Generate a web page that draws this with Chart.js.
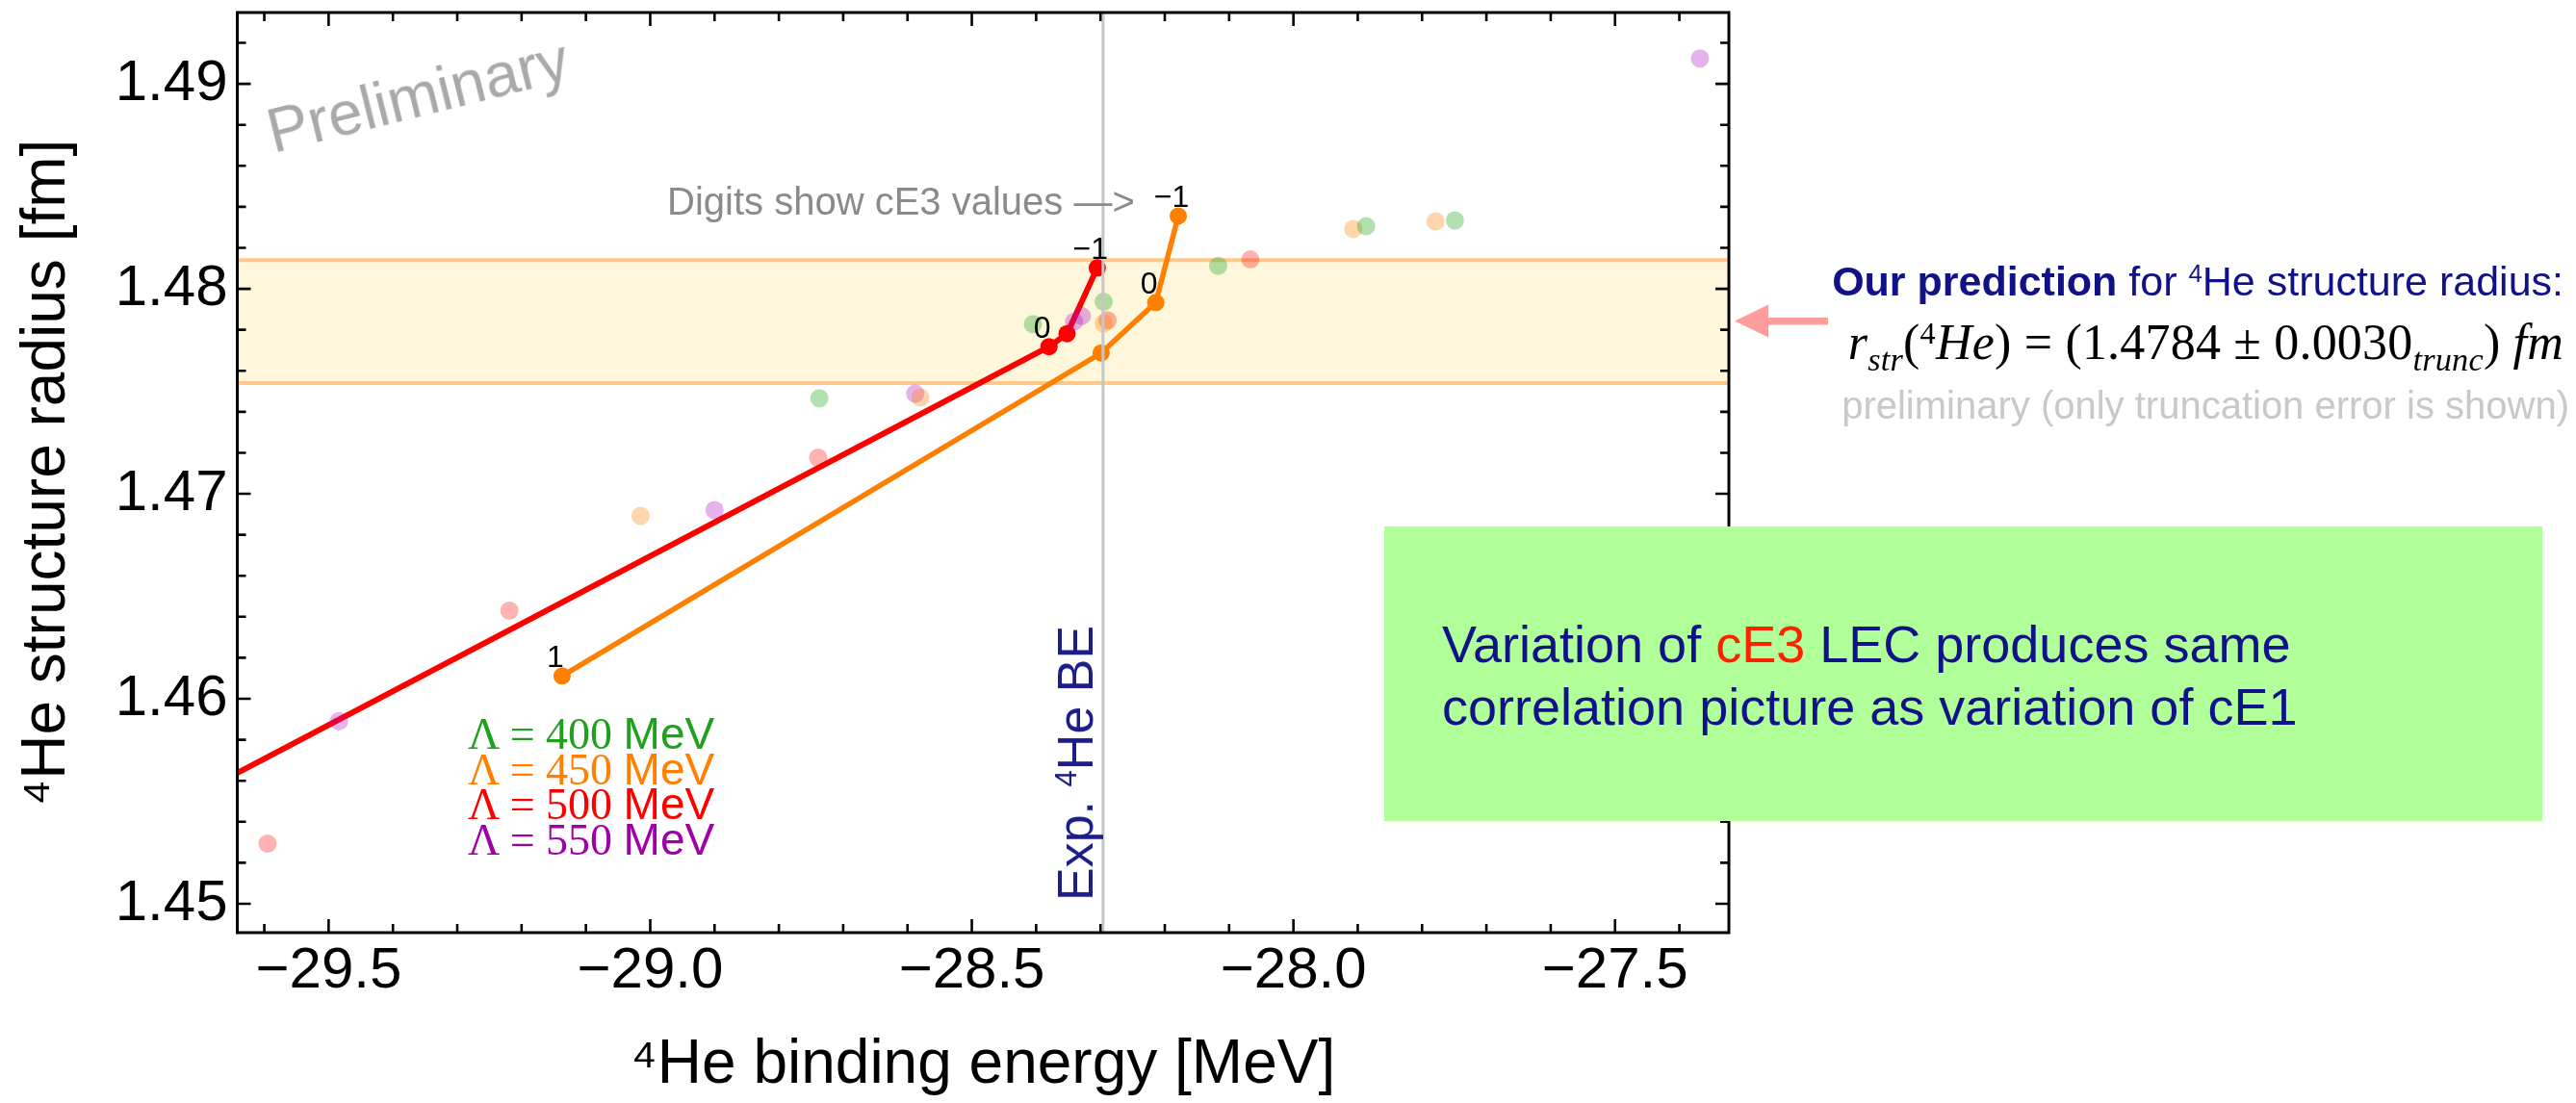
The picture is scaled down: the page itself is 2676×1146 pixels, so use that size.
<!DOCTYPE html>
<html>
<head>
<meta charset="utf-8">
<script src="https://cdn.jsdelivr.net/npm/chart.js@4.4.1/dist/chart.umd.min.js"></script>
<style>
html,body{margin:0;padding:0;background:#fff;}
#wrap{position:relative;width:2676px;height:1146px;overflow:hidden;background:#fff;}
#c{position:absolute;left:0;top:0;}
.abs{position:absolute;white-space:nowrap;line-height:1;font-family:'Liberation Sans',Arial,Helvetica,sans-serif;}
.sub{font-size:0.66em;position:relative;top:0.34em;}
.sup{font-size:0.62em;position:relative;top:-0.5em;}
.ssup{font-size:0.6em;position:relative;top:-0.55em;}
#legend div{height:36.5px;line-height:36.5px;font-family:'Liberation Serif','Times New Roman',serif;font-size:46px;}
#legend .u{font-family:'Liberation Sans',Arial,sans-serif;}
#greenbox{position:absolute;left:1438px;top:547px;width:1203px;height:306px;background:#b0ff98;}
#greenbox .t{position:absolute;left:60px;top:90px;font-family:'Liberation Sans',Arial,sans-serif;font-size:54px;line-height:65px;color:#111188;white-space:nowrap;}
</style>
</head>
<body>
<div id="wrap">
<canvas id="c" width="2676" height="1146"></canvas>

<div class="abs" style="left:434px;top:99px;transform:translate(-50%,-50%) rotate(-14deg);font-size:64px;color:#a9a9a9;">Preliminary</div>

<div class="abs" style="left:693px;top:189px;font-size:40px;color:#8a8a8a;">Digits show cE3 values —&gt;</div>

<div class="abs" style="left:1117px;top:793px;transform:translate(-50%,-50%) rotate(-90deg);font-size:52px;color:#1c1c8a;">Exp. <span class="ssup">4</span>He BE</div>

<div id="legend" class="abs" style="left:486px;top:744px;">
  <div style="color:#1fa01f">Λ = 400 <span class="u">MeV</span></div>
  <div style="color:#ff8000">Λ = 450 <span class="u">MeV</span></div>
  <div style="color:#ff0000">Λ = 500 <span class="u">MeV</span></div>
  <div style="color:#a000a8">Λ = 550 <span class="u">MeV</span></div>
</div>

<div class="abs" style="right:13px;top:271px;font-size:43px;color:#111188;"><b>Our prediction</b> for <span class="ssup">4</span>He structure radius:</div>
<div class="abs" style="right:13px;top:330px;font-size:52px;letter-spacing:0.2px;color:#000;font-family:'Liberation Serif','Times New Roman',serif;"><i>r</i><span class="sub"><i>str</i></span>(<span class="sup">4</span><i>He</i>) = (1.4784 ± 0.0030<span class="sub"><i>trunc</i></span>) <i>fm</i></div>
<div class="abs" style="right:7px;top:401px;font-size:40px;color:#c8c8c8;">preliminary (only truncation error is shown)</div>

<svg style="position:absolute;left:1800px;top:314px;" width="102" height="40">
  <polygon points="2,19.5 37,2.5 37,36.5" fill="#ff9c9c"/>
  <rect x="34" y="16" width="65" height="7.5" fill="#ff9c9c"/>
</svg>

<div id="greenbox"><div class="t">Variation of <span style="color:#ff2200">cE3</span> LEC produces same<br>correlation picture as variation of cE1</div></div>
</div>

<script>
// ---------------- data ----------------
const cutoffs = ['400', '450', '500', '550'];

// faint background points (other LEC variation), per cutoff
const be400 = [-28.737, -28.405, -28.295, -28.117, -27.887, -27.749];
const r400  = [1.47466, 1.47828, 1.47937, 1.48112, 1.48305, 1.48334];
const be450 = [-29.015, -28.580, -28.295, -27.907, -27.779];
const r450  = [1.46892, 1.47470, 1.47831, 1.48292, 1.48329];
const be500 = [-29.595, -29.219, -28.739, -28.289, -28.067];
const r500  = [1.45293, 1.46430, 1.47176, 1.47847, 1.48143];
const be550 = [-29.484, -28.900, -28.588, -28.341, -28.329, -27.368];
const r550  = [1.45891, 1.46920, 1.47488, 1.47840, 1.47867, 1.49124];

// cE3 variation (digits show cE3 values)
const digits450 = ['\u22121', '0', '', '1'];
const be450cE3  = [-28.179, -28.214, -28.299, -29.137];
const r450cE3   = [1.48355, 1.47933, 1.47687, 1.46111];
const digits500 = ['\u22121', '', '0', '1'];
const be500cE3  = [-28.305, -28.352, -28.380, -29.850];
const r500cE3   = [1.48102, 1.47781, 1.47718, 1.45295];

const expBE = -28.296;
const predRadius = 1.4784;
const predErr = 0.0030;

const xRange = [-29.642, -27.323];
const yRange = [1.44859, 1.49348];
const xMajor = [-29.5, -29.0, -28.5, -28.0, -27.5];
const xTickLabels = ['\u221229.5', '\u221229.0', '\u221228.5', '\u221228.0', '\u221227.5'];
const yMajor = [1.45, 1.46, 1.47, 1.48, 1.49];
const yTickLabels = ['1.45', '1.46', '1.47', '1.48', '1.49'];
const xMinorStep = 0.1;
const yMinorStep = 0.002;

// ---------------- helpers ----------------
function stepValues(a, b, step) {
  const out = [];
  for (let k = Math.ceil(a / step - 1e-9); k * step <= b + 1e-9; k++) out.push(+(k * step).toFixed(6));
  return out;
}
function majorIndex(list, v) { return list.findIndex(m => Math.abs(m - v) < 1e-6); }
function pts(xs, ys) { return xs.map((x, i) => ({x: x, y: ys[i]})); }

const SANS = "'Liberation Sans', Arial, Helvetica, sans-serif";

const frameTicks = {
  id: 'frameTicks',
  afterDatasetsDraw(chart) {
    const {ctx, chartArea: a, scales: {x, y}} = chart;
    ctx.save();
    ctx.fillStyle = '#000';
    ctx.font = '32px ' + SANS;
    ctx.textAlign = 'center';
    ctx.textBaseline = 'middle';
    chart.data.datasets.forEach((ds, di) => {
      if (!ds.digits) return;
      const meta = chart.getDatasetMeta(di);
      meta.data.forEach((el, i) => {
        const lab = ds.digits[i];
        if (!lab) return;
        if (el.x < a.left || el.x > a.right || el.y < a.top || el.y > a.bottom) return;
        ctx.fillText(lab, el.x - 7, el.y - 18);
      });
    });
    ctx.strokeStyle = '#000';
    ctx.lineWidth = 3;
    ctx.strokeRect(a.left, a.top, a.right - a.left, a.bottom - a.top);
    ctx.lineWidth = 2.6;
    ctx.beginPath();
    x.ticks.forEach(t => {
      const v = t.value;
      const len = majorIndex(xMajor, v) >= 0 ? 14 : 9;
      const px = x.getPixelForValue(v);
      ctx.moveTo(px, a.bottom); ctx.lineTo(px, a.bottom - len);
      ctx.moveTo(px, a.top); ctx.lineTo(px, a.top + len);
    });
    y.ticks.forEach(t => {
      const v = t.value;
      const len = majorIndex(yMajor, v) >= 0 ? 14 : 9;
      const py = y.getPixelForValue(v);
      ctx.moveTo(a.left, py); ctx.lineTo(a.left + len, py);
      ctx.moveTo(a.right, py); ctx.lineTo(a.right - len, py);
    });
    ctx.stroke();
    ctx.restore();
  }
};

const faint = (label, xs, ys, color) => ({
  label: label, data: pts(xs, ys), showLine: false,
  pointRadius: 9.5, pointBorderWidth: 0, pointBackgroundColor: color, pointBorderColor: color,
  backgroundColor: color, borderColor: color
});

const datasets = [
  { label: 'Exp. BE', data: [{x: expBE, y: yRange[0] - 0.01}, {x: expBE, y: yRange[1] + 0.01}],
    showLine: true, borderColor: '#c6c6c6', borderWidth: 3, pointRadius: 0, fill: false },
  faint('400 MeV', be400, r400, 'rgba(40,170,40,0.36)'),
  faint('450 MeV', be450, r450, 'rgba(255,128,0,0.33)'),
  faint('500 MeV', be500, r500, 'rgba(255,0,0,0.30)'),
  faint('550 MeV', be550, r550, 'rgba(170,0,190,0.30)'),
  { label: 'cE3 500', data: pts(be500cE3, r500cE3), digits: digits500, showLine: true,
    borderColor: '#ff0000', borderWidth: 6, pointRadius: 9, pointBorderWidth: 0,
    pointBackgroundColor: '#ff0000', backgroundColor: '#ff0000', fill: false },
  { label: 'cE3 450', data: pts(be450cE3, r450cE3), digits: digits450, showLine: true,
    borderColor: '#ff8000', borderWidth: 5.5, pointRadius: 9, pointBorderWidth: 0,
    pointBackgroundColor: '#ff8000', backgroundColor: '#ff8000', fill: false },
  { label: 'band top', data: [{x: xRange[0] - 1, y: predRadius + predErr}, {x: xRange[1] + 1, y: predRadius + predErr}],
    showLine: true, borderColor: '#ffc888', borderWidth: 4, pointRadius: 0, fill: false },
  { label: 'band bottom', data: [{x: xRange[0] - 1, y: predRadius - predErr}, {x: xRange[1] + 1, y: predRadius - predErr}],
    showLine: true, borderColor: '#ffc888', borderWidth: 4, pointRadius: 0,
    fill: '-1', backgroundColor: '#fff7dc' }
];

Chart.defaults.font.family = SANS;

function noPad(s) { s.paddingTop = 0; s.paddingBottom = 0; s.paddingLeft = 0; s.paddingRight = 0; }

new Chart(document.getElementById('c'), {
  type: 'scatter',
  data: { datasets: datasets },
  options: {
    responsive: false,
    animation: false,
    devicePixelRatio: 1,
    events: [],
    layout: { padding: { left: 0, top: 13, right: 880, bottom: 0 } },
    plugins: { legend: { display: false }, tooltip: { enabled: false } },
    scales: {
      x: {
        type: 'linear', min: xRange[0], max: xRange[1],
        grid: { display: false, drawTicks: false },
        border: { display: false },
        afterFit(s) { s.height = 177; noPad(s); },
        afterBuildTicks(s) { s.ticks = stepValues(xRange[0], xRange[1], xMinorStep).map(v => ({value: v})); },
        ticks: {
          autoSkip: false, maxRotation: 0, padding: 4, color: '#000',
          font: { size: 60 },
          callback(v) { const i = majorIndex(xMajor, v); return i >= 0 ? xTickLabels[i] : ''; }
        },
        title: { display: true, text: '\u2074He binding energy [MeV]', color: '#000',
                 font: { size: 64 }, padding: { top: 0, bottom: 0 } }
      },
      y: {
        type: 'linear', min: yRange[0], max: yRange[1],
        grid: { display: false, drawTicks: false },
        border: { display: false },
        afterFit(s) { s.width = 246.5; noPad(s); },
        afterBuildTicks(s) { s.ticks = stepValues(yRange[0], yRange[1], yMinorStep).map(v => ({value: v})); },
        ticks: {
          autoSkip: false, padding: 10, color: '#000',
          font: { size: 60 },
          callback(v) { const i = majorIndex(yMajor, v); return i >= 0 ? yTickLabels[i] : ''; }
        },
        title: { display: true, text: '\u2074He structure radius [fm]', color: '#000',
                 font: { size: 64 }, padding: { top: 11, bottom: 0 } }
      }
    }
  },
  plugins: [frameTicks]
});
</script>
</body>
</html>
